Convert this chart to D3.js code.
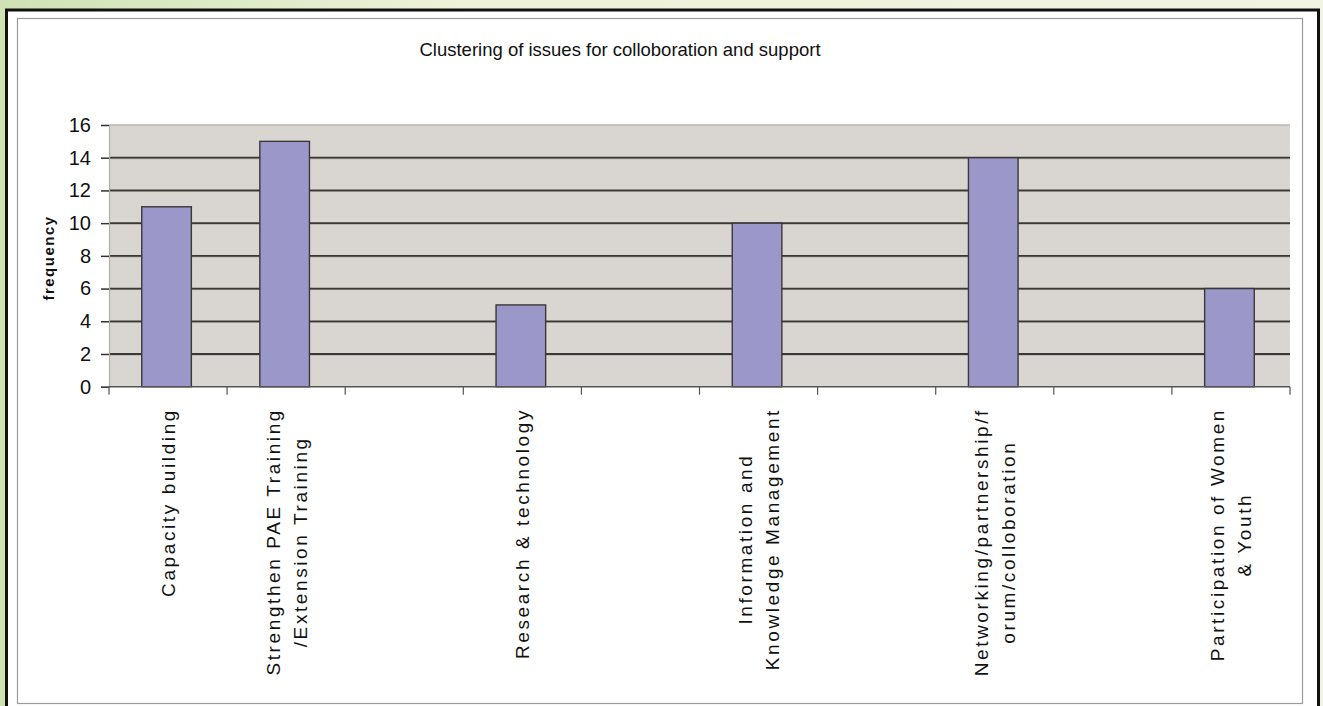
<!DOCTYPE html>
<html>
<head>
<meta charset="utf-8">
<script src="https://cdn.jsdelivr.net/npm/d3@7"></script>
<style>
  html, body { margin: 0; padding: 0; }
  body { width: 1323px; height: 706px; overflow: hidden; }
  svg { display: block; }
  text { font-family: "Liberation Sans", Arial, sans-serif; fill: #111; }
</style>
</head>
<body>
<svg id="chart" width="1323" height="706"></svg>
<script>
// Category labels (line breaks as drawn); empty slots sit between the issue clusters
const categories = [
  "Capacity building",
  "Strengthen PAE Training\n/Extension Training",
  "",
  "Research & technology",
  "",
  "Information and\nKnowledge Management",
  "",
  "Networking/partnership/f\norum/colloboration",
  "",
  "Participation of Women\n& Youth"
];
const frequency = [11, 15, null, 5, null, 10, null, 14, null, 6];
const yTicks = [0, 2, 4, 6, 8, 10, 12, 14, 16];
const chartTitle = "Clustering of issues for colloboration and support";
const yAxisTitle = "frequency";

const svg = d3.select("#chart");
const W = 1323, H = 706;

// Slide-style backdrop behind the chart frame
const defs = svg.append("defs");
const bg = defs.append("linearGradient").attr("id", "bgGrad")
  .attr("x1", "0").attr("y1", "0").attr("x2", "1").attr("y2", "0");
bg.append("stop").attr("offset", "0").attr("stop-color", "#cfe2b4");
bg.append("stop").attr("offset", "0.35").attr("stop-color", "#eef2d9");
bg.append("stop").attr("offset", "1").attr("stop-color", "#f1f3e3");
svg.append("rect").attr("width", W).attr("height", H).attr("fill", "url(#bgGrad)");

// Frame: heavy black outline, white card, thin grey inner border
svg.append("rect").attr("x", 6.5).attr("y", 10).attr("width", 1312).attr("height", 710)
  .attr("fill", "#ffffff").attr("stroke", "#111").attr("stroke-width", 3);
svg.append("rect").attr("x", 17.5).attr("y", 18.5).attr("width", 1285).attr("height", 685)
  .attr("fill", "none").attr("stroke", "#9a9a9a").attr("stroke-width", 1.2);

const plot = { left: 109, right: 1290, top: 125, bottom: 386.7 };

const x = d3.scaleBand()
  .domain(d3.range(categories.length))
  .range([plot.left, plot.right])
  .padding(0);

const y = d3.scaleLinear()
  .domain([0, 16])
  .range([plot.bottom, plot.top]);

// Plot area fill
svg.append("rect")
  .attr("x", plot.left).attr("y", plot.top)
  .attr("width", plot.right - plot.left).attr("height", plot.bottom - plot.top)
  .attr("fill", "#d9d5d1");

// Top edge of plot area (light)
svg.append("line")
  .attr("x1", plot.left).attr("x2", plot.right)
  .attr("y1", y(16)).attr("y2", y(16))
  .attr("stroke", "#b8b4b0").attr("stroke-width", 1.5);

// Horizontal gridlines
const grid = svg.append("g");
yTicks.filter(t => t > 0 && t < 16).forEach(t => {
  grid.append("line")
    .attr("x1", plot.left).attr("x2", plot.right)
    .attr("y1", y(t) + 1).attr("y2", y(t) + 1)
    .attr("stroke", "#a9a5a1").attr("stroke-width", 1);
  grid.append("line")
    .attr("x1", plot.left).attr("x2", plot.right)
    .attr("y1", y(t)).attr("y2", y(t))
    .attr("stroke", "#3a3836").attr("stroke-width", 1.8);
});

// Bars
const barFrac = 0.42;
svg.append("g").selectAll("rect")
  .data(frequency.map((v, i) => ({ v, i })).filter(d => d.v !== null))
  .join("rect")
  .attr("x", d => x(d.i) + x.bandwidth() * (1 - barFrac) / 2 - 1.5)
  .attr("width", x.bandwidth() * barFrac)
  .attr("y", d => y(d.v))
  .attr("height", d => y(0) - y(d.v))
  .attr("fill", "#9c97c9")
  .attr("stroke", "#3a3838")
  .attr("stroke-width", 1.4);

// Y axis
const yAxis = d3.axisLeft(y).tickValues(yTicks).tickSize(8).tickPadding(10);
const yg = svg.append("g").attr("transform", `translate(${plot.left},0)`).call(yAxis);
yg.select(".domain").attr("stroke", "#b0aca8").attr("stroke-width", 1.2);
yg.selectAll(".tick line").attr("stroke", "#333").attr("stroke-width", 1.5);
yg.selectAll(".tick text")
  .style("font-family", "'Liberation Sans', Arial, sans-serif")
  .attr("font-size", 20).attr("fill", "#333");

// X axis baseline and boundary ticks
svg.append("line")
  .attr("x1", plot.left).attr("x2", plot.right)
  .attr("y1", y(0)).attr("y2", y(0))
  .attr("stroke", "#555").attr("stroke-width", 1.6);
const edges = d3.range(categories.length).map(i => x(i)).concat([plot.right]);
svg.append("g").selectAll("line")
  .data(edges)
  .join("line")
  .attr("x1", d => d).attr("x2", d => d)
  .attr("y1", y(0)).attr("y2", y(0) + 8)
  .attr("stroke", "#555").attr("stroke-width", 1.2);

// Rotated category labels, each block ending just below the axis
const labelTop = 408;
const lineGap = 27;
const lg = svg.append("g");
categories.forEach((lab, i) => {
  if (!lab) return;
  const lines = lab.split("\n");
  const cx = x(i) + x.bandwidth() / 2;
  const g = lg.append("g");
  const texts = lines.map((ln, k) =>
    g.append("text")
      .text(ln)
      .attr("font-size", 19)
      .attr("letter-spacing", "2.6px")
      .attr("text-anchor", "middle")
  );
  const maxLen = d3.max(texts, t => t.node().getComputedTextLength());
  const midY = labelTop + maxLen / 2;
  texts.forEach((t, k) => {
    const lx = cx + (k - (lines.length - 1) / 2) * lineGap + 7;
    t.attr("transform", `translate(${lx},${midY}) rotate(-90)`);
  });
});

// Y axis title
svg.append("text")
  .text(yAxisTitle)
  .attr("font-size", 15)
  .attr("font-weight", "bold")
  .attr("letter-spacing", "1.5px")
  .attr("text-anchor", "middle")
  .attr("transform", `translate(${54},${258}) rotate(-90)`);

// Chart title
svg.append("text")
  .text(chartTitle)
  .attr("x", 620).attr("y", 56)
  .attr("font-size", 18.5)
  .attr("text-anchor", "middle");
</script>
</body>
</html>
